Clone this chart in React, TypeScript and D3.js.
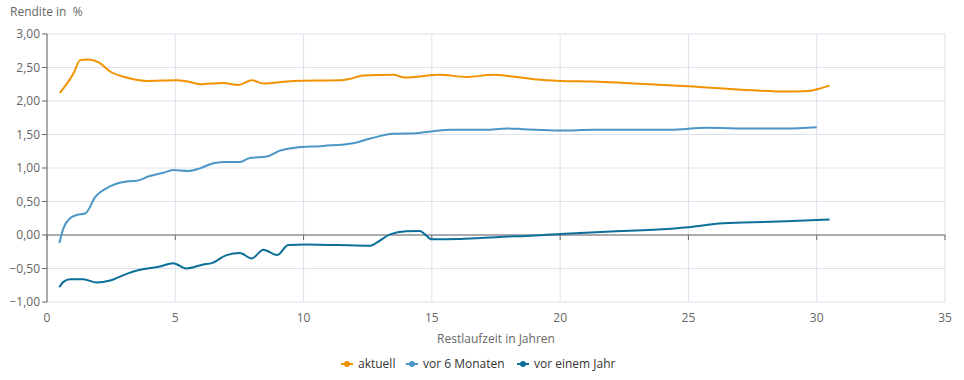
import React from "react";
import * as d3 from "d3";

const seriesNames = ["aktuell", "vor 6 Monaten", "vor einem Jahr"];
const seriesColors = ["#f39200", "#4a96c6", "#0b6f99"];

const aktuellX = [0.5, 1.03, 1.29, 1.61, 2.0, 2.46, 3.1, 3.88, 5.05, 5.5, 5.96, 6.87, 7.46, 7.98, 8.43, 9.6, 11.4, 11.8, 12.33, 13.5, 13.95, 15.3, 16.36, 17.4, 18.04, 19.08, 20, 21.3, 22.5, 25, 27.5, 28.8, 29.7, 30.06, 30.5];
const aktuellY = [2.12, 2.41, 2.61, 2.62, 2.58, 2.44, 2.35, 2.30, 2.31, 2.29, 2.25, 2.27, 2.24, 2.31, 2.26, 2.30, 2.31, 2.33, 2.38, 2.39, 2.35, 2.39, 2.36, 2.39, 2.37, 2.32, 2.30, 2.29, 2.27, 2.22, 2.16, 2.14, 2.15, 2.18, 2.23];

const sechsMonateX = [0.48, 0.64, 0.9, 1.16, 1.48, 1.68, 1.8, 2.33, 3.1, 3.5, 4.0, 4.53, 4.92, 5.5, 5.96, 6.48, 7.0, 7.52, 7.91, 8.56, 9.08, 9.6, 10.77, 11.94, 12.6, 13.5, 14.4, 15.7, 17.1, 17.9, 18.56, 20, 21.3, 24.3, 25.7, 27.5, 28.8, 30.0];
const sechsMonateY = [-0.12, 0.10, 0.25, 0.30, 0.32, 0.42, 0.52, 0.70, 0.80, 0.81, 0.88, 0.93, 0.97, 0.955, 0.995, 1.07, 1.09, 1.09, 1.15, 1.17, 1.26, 1.30, 1.33, 1.37, 1.44, 1.51, 1.52, 1.57, 1.57, 1.59, 1.58, 1.56, 1.57, 1.57, 1.60, 1.59, 1.59, 1.61];

const einJahrX = [0.48, 0.64, 0.9, 1.41, 1.94, 2.46, 3.1, 3.62, 4.4, 4.92, 5.44, 6.09, 6.42, 7.0, 7.52, 7.98, 8.43, 8.97, 9.4, 10.1, 12.6, 12.85, 13.37, 14.0, 14.54, 14.73, 15.0, 16.1, 17.8, 18.7, 20, 21.8, 24.3, 25, 26.2, 27.5, 28.8, 30.5];
const einJahrY = [-0.78, -0.70, -0.66, -0.66, -0.71, -0.68, -0.58, -0.52, -0.47, -0.42, -0.50, -0.44, -0.42, -0.30, -0.27, -0.35, -0.22, -0.30, -0.15, -0.14, -0.16, -0.115, 0.01, 0.055, 0.06, 0.01, -0.065, -0.06, -0.025, -0.015, 0.015, 0.05, 0.094, 0.115, 0.17, 0.19, 0.204, 0.23];

const xTicks = [0, 5, 10, 15, 20, 25, 30, 35];
const yTicks = [-1, -0.5, 0, 0.5, 1, 1.5, 2, 2.5, 3];

const W = 964;
const H = 380;
const m = { left: 47, right: 19, top: 34, bottom: 78 };
const FONT = "'Open Sans', sans-serif";

export default function App() {
  const x = d3.scaleLinear().domain([0, 35]).range([m.left, W - m.right]);
  const y = d3.scaleLinear().domain([-1, 3]).range([H - m.bottom, m.top]);
  const fmt = (v: number) => d3.format(".2f")(v).replace(".", ",");

  const series = [
    { xs: aktuellX, ys: aktuellY },
    { xs: sechsMonateX, ys: sechsMonateY },
    { xs: einJahrX, ys: einJahrY },
  ];
  const line = d3
    .line<[number, number]>()
    .x((d) => x(d[0]))
    .y((d) => y(d[1]))
    .curve(d3.curveMonotoneX);

  const legendX = [341, 406, 517];

  return (
    <svg
      width={W}
      height={H}
      style={{ position: "absolute", left: 0, top: 0, fontFamily: FONT }}
    >
      <rect width={W} height={H} fill="#fff" />
      <text x={10} y={16} fontSize={12} fill="#666" style={{ whiteSpace: "pre" }}>
        {"Rendite in  %"}
      </text>
      {/* grid */}
      {xTicks.map((t) => (
        <line key={"gx" + t} x1={x(t)} x2={x(t)} y1={y(3)} y2={y(-1)} stroke="#dde1ec" strokeWidth={1} />
      ))}
      {yTicks.map((t) => (
        <line key={"gy" + t} x1={x(0)} x2={x(35)} y1={y(t)} y2={y(t)} stroke="#dde1ec" strokeWidth={1} />
      ))}
      {/* y axis */}
      <line x1={x(0)} x2={x(0)} y1={y(3)} y2={y(-1)} stroke="#666" strokeWidth={1} />
      {yTicks.map((t) => (
        <g key={"yt" + t}>
          <line x1={x(0) - 5} x2={x(0)} y1={y(t)} y2={y(t)} stroke="#666" />
          <text x={x(0) - 7} y={y(t)} dy="0.35em" textAnchor="end" fontSize={12} fill="#666">
            {fmt(t)}
          </text>
        </g>
      ))}
      {/* x axis at zero */}
      <line x1={x(0)} x2={x(35)} y1={y(0)} y2={y(0)} stroke="#666" strokeWidth={1} />
      {xTicks.map((t) => (
        <g key={"xt" + t}>
          <line x1={x(t)} x2={x(t)} y1={y(0)} y2={y(0) + 5} stroke="#666" />
          <text x={x(t)} y={y(-1) + 16} dy="0.35em" textAnchor="middle" fontSize={12} fill="#666">
            {t}
          </text>
        </g>
      ))}
      <text x={(x(0) + x(35)) / 2} y={343} textAnchor="middle" fontSize={12} fill="#666">
        Restlaufzeit in Jahren
      </text>
      {/* lines */}
      {series.map((s, i) => (
        <path
          key={"s" + i}
          d={line(s.xs.map((v, j) => [v, s.ys[j]] as [number, number])) || ""}
          fill="none"
          stroke={seriesColors[i]}
          strokeWidth={2}
        />
      ))}
      {/* legend */}
      {seriesNames.map((n, i) => (
        <g key={"l" + i} transform={`translate(${legendX[i]},364)`}>
          <line x1={0} x2={12} y1={0} y2={0} stroke={seriesColors[i]} strokeWidth={2} />
          <circle cx={6} cy={0} r={3} fill={seriesColors[i]} />
          <text x={17} y={0} dy="0.35em" fontSize={12} fill="#333">
            {n}
          </text>
        </g>
      ))}
    </svg>
  );
}
